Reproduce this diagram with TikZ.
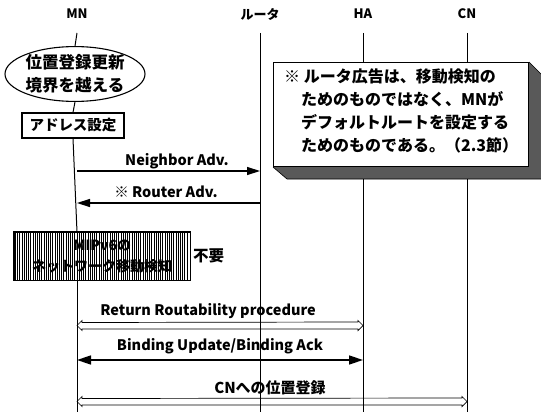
\documentclass[tikz,border=0pt]{standalone}
\usepackage{fontspec}
\setmainfont{Noto Sans CJK JP}
\usetikzlibrary{arrows.meta,calc,shapes.geometric}
\begin{document}
\begin{tikzpicture}[x=1pt,y=-1pt,
  hdr/.style={font=\fontsize{13}{15}\selectfont\bfseries, inner sep=1pt},
  life/.style={line width=1pt},
  msg/.style={line width=1.4pt, -{Triangle[length=13pt,width=8pt]}},
  msgboth/.style={line width=1.6pt, {Triangle[length=14pt,width=9pt]}-{Triangle[length=14pt,width=9pt]}},
  lbl/.style={font=\fontsize{14.5}{16}\selectfont\bfseries, inner sep=1pt},
  hollow/.style={line width=0.7pt},
  box/.style={draw, line width=1.1pt, inner sep=0pt, align=center}
]
\useasboundingbox (0,0) rectangle (541,412);

% headers
\node[hdr] (hMN) at (77,14) {MN};
\node[hdr] (hRT) at (260,14) {ルータ};
\node[hdr] (hHA) at (363,14) {HA};
\node[hdr] (hCN) at (467,14) {CN};

% lifeline end points
\coordinate (mnT) at (77,33);  \coordinate (mnB) at (77,412);
\coordinate (rtT) at (260,33); \coordinate (rtB) at (260,412);
\coordinate (haT) at (363,33); \coordinate (haB) at (363,412);
\coordinate (cnT) at (467,33); \coordinate (cnB) at (467,412);

% MN boxes
\node[ellipse, box, minimum width=136pt, minimum height=52pt,
      font=\fontsize{16.5}{23}\selectfont\bfseries] (upd) at (75,74) {位置登録更新\\境界を越える};
\node[box, minimum width=102pt, minimum height=25pt,
      font=\fontsize{14.5}{16}\selectfont\bfseries] (addr) at (73,125.5) {アドレス設定};

% note box with 3D shadow
\node[draw, line width=1pt, fill=white, anchor=north west, minimum width=255pt, minimum height=104pt,
      inner sep=0pt] (note) at (273,62) {};
\fill[black!65] (note.north east) -- ++(13,13) -- ++(0,104) -- ++(-255,0) -- (note.south west) -- (note.south east) -- cycle;
\draw[line width=0.6pt] (note.north east) -- ++(13,13) -- ++(0,104) -- ++(-255,0) -- (note.south west);
\node[anchor=north west, align=left, inner sep=0pt, font=\fontsize{16}{22.8}\selectfont\bfseries] (notetxt) at (284,69)
  {※\ ルータ広告は、移動検知の\\\hspace{17pt}ためのものではなく、MNが\\\hspace{17pt}デフォルトルートを設定する\\\hspace{17pt}ためのものである。（2.3節）};
\coordinate (shB) at (0,179);

% hatched box
\node[anchor=north west, minimum width=176pt, minimum height=48pt, inner sep=0pt, align=center,
      font=\fontsize{14}{21}\selectfont\bfseries] (dna) at (14,232) {MIPv6の\\ネットワーク移動検知};
\foreach \xx in {15.5,17.7,...,189} {
  \draw[line width=1.1pt] (\xx,232) -- (\xx,280);
}
\draw[line width=1.2pt] (dna.north west) rectangle (dna.south east);
\node[font=\fontsize{15.5}{17}\selectfont\bfseries, anchor=west, inner sep=0pt] (fuyou) at (193,256) {不要};

% lifelines
\draw[life] (mnT) -- (upd.north);
\draw[life] (upd.south) -- (addr.north);
\draw[life] (addr.south) -- (dna.north -| mnT);
\draw[life] (dna.south -| mnT) -- (mnB);
\draw[life] (rtT) -- (rtB);
\draw[life] (haT) -- (haT |- note.north);
\draw[life] (haT |- shB) -- (haB);
\draw[life] (cnT) -- (cnT |- note.north);
\draw[life] (cnT |- shB) -- (cnB);

% Neighbor Adv.
\coordinate (na1) at (77,171); \coordinate (na2) at (260,171);
\draw[msg] (na1) -- (na2);
\node[lbl] (naL) at (177,161) {Neighbor Adv.};
% Router Adv.
\coordinate (ra1) at (260,203); \coordinate (ra2) at (77,203);
\draw[msg] (ra1) -- (ra2);
\node[lbl] (raL) at (166,192) {※ Router Adv.};

% Return Routability (hollow double arrow)
\coordinate (rrL) at (77,325.5); \coordinate (rrR) at (363,325.5);
\draw[hollow] (rrL) -- ++(5,-5) -- ++(0,2) -- ($(rrR)+(-5,-3.5)$) -- ++(0,-1.5) -- (rrR)
  -- ++(-5,5) -- ++(0,-1.5) -- ($(rrL)+(5,3.5)$) -- ++(0,1.5) -- cycle;
\node[lbl] (rrLbl) at (208,311) {Return Routability procedure};

% Binding Update / Binding Ack
\coordinate (bu1) at (77,360); \coordinate (bu2) at (363,360);
\draw[msgboth] (bu1) -- (bu2);
\node[lbl] (buL) at (220,346) {Binding Update/Binding Ack};

% CN registration (hollow double arrow)
\coordinate (cnL) at (77,401.5); \coordinate (cnR) at (467,401.5);
\draw[hollow] (cnL) -- ++(5,-5) -- ++(0,2) -- ($(cnR)+(-5,-3.5)$) -- ++(0,-1.5) -- (cnR)
  -- ++(-5,5) -- ++(0,-1.5) -- ($(cnL)+(5,3.5)$) -- ++(0,1.5) -- cycle;
\node[lbl, font=\fontsize{15}{16}\selectfont\bfseries] (cnLbl) at (270,388) {CNへの位置登録};
\end{tikzpicture}
\end{document}
